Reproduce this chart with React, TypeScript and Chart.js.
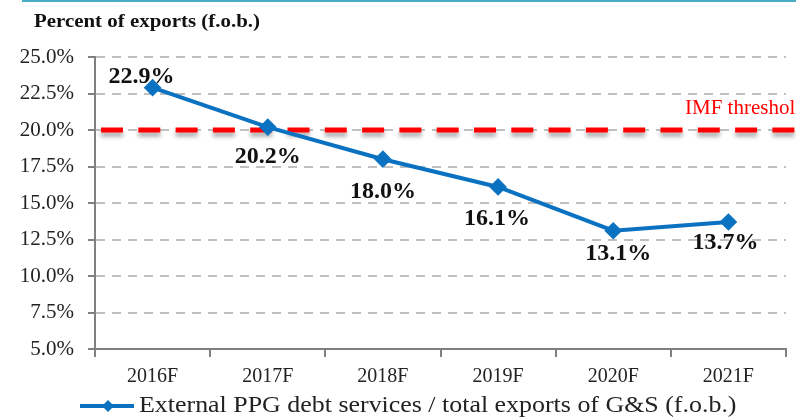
import React, { useEffect, useRef } from "react";
import { Chart, registerables } from "chart.js";

Chart.register(...registerables);

const categories = ["2016F", "2017F", "2018F", "2019F", "2020F", "2021F"];
const debtServiceRatio = [22.9, 20.2, 18.0, 16.1, 13.1, 13.7];
const seriesName = "External PPG debt services / total exports of G&S (f.o.b.)";
const thresholdValue = 20;
const thresholdLabel = "IMF threshold";
const axisTitle = "Percent of exports (f.o.b.)";
const yMin = 5;
const yMax = 25;
const yStep = 2.5;

// label offsets (pixels) relative to each point
const labelOffsets: [number, number][] = [
  [-11, -11],
  [0, 30],
  [0, 33],
  [-1, 32],
  [5, 23],
  [-3, 21],
];

const SERIF = "'Liberation Serif', 'DejaVu Serif', serif";
const BLUE = "#0a72c0";

const decorPlugin = {
  id: "decor",
  beforeDatasetsDraw(chart: any) {
    const { ctx, chartArea, scales } = chart;
    const y = scales.y.getPixelForValue(thresholdValue);
    ctx.save();
    ctx.strokeStyle = "#ff0000";
    ctx.lineWidth = 5;
    ctx.setLineDash([22, 15.3]);
    ctx.shadowColor = "rgba(0,0,0,0.35)";
    ctx.shadowBlur = 4;
    ctx.shadowOffsetY = 4;
    ctx.beginPath();
    ctx.moveTo(chartArea.left + 6, y);
    ctx.lineTo(chart.width, y);
    ctx.stroke();
    ctx.restore();

    ctx.save();
    ctx.fillStyle = "#ff0000";
    ctx.font = `21px ${SERIF}`;
    ctx.textAlign = "left";
    ctx.textBaseline = "alphabetic";
    ctx.fillText(thresholdLabel, 685, 114);
    ctx.restore();
  },
  afterDatasetsDraw(chart: any) {
    const { ctx } = chart;
    const meta = chart.getDatasetMeta(0);
    ctx.save();
    ctx.fillStyle = "#111";
    ctx.font = `bold 24px ${SERIF}`;
    ctx.textAlign = "center";
    ctx.textBaseline = "middle";
    meta.data.forEach((pt: any, i: number) => {
      const [dx, dy] = labelOffsets[i];
      ctx.fillText(debtServiceRatio[i].toFixed(1) + "%", pt.x + dx, pt.y + dy);
    });
    ctx.restore();
  },
  afterDraw(chart: any) {
    const { ctx } = chart;
    ctx.save();
    // top accent line
    ctx.strokeStyle = "#4bacc6";
    ctx.lineWidth = 2;
    ctx.beginPath();
    ctx.moveTo(22, 1);
    ctx.lineTo(chart.width, 1);
    ctx.stroke();
    // title
    ctx.fillStyle = "#111";
    ctx.font = `bold 19px ${SERIF}`;
    ctx.textAlign = "left";
    ctx.textBaseline = "alphabetic";
    ctx.save();
    ctx.translate(34, 27);
    ctx.scale(1.1, 1);
    ctx.fillText(axisTitle, 0, 0);
    ctx.restore();
    // legend
    const ly = 406;
    ctx.strokeStyle = BLUE;
    ctx.lineWidth = 4;
    ctx.beginPath();
    ctx.moveTo(80, ly);
    ctx.lineTo(134, ly);
    ctx.stroke();
    ctx.fillStyle = BLUE;
    ctx.beginPath();
    ctx.moveTo(108, ly - 6);
    ctx.lineTo(114, ly);
    ctx.lineTo(108, ly + 6);
    ctx.lineTo(102, ly);
    ctx.closePath();
    ctx.fill();
    ctx.fillStyle = "#222";
    ctx.font = `24px ${SERIF}`;
    ctx.textBaseline = "middle";
    ctx.save();
    ctx.translate(139, ly);
    ctx.scale(1.08, 1);
    ctx.fillText(seriesName, 0, 0);
    ctx.restore();
    ctx.restore();
  },
};

export default function App() {
  const ref = useRef<HTMLCanvasElement>(null);
  useEffect(() => {
    document.body.style.margin = "0";
    const chart = new Chart(ref.current!, {
      type: "line",
      data: {
        labels: categories,
        datasets: [
          {
            label: seriesName,
            data: debtServiceRatio,
            borderColor: BLUE,
            backgroundColor: BLUE,
            borderWidth: 4,
            pointStyle: "rectRot",
            pointRadius: 6,
            pointBackgroundColor: BLUE,
            pointBorderColor: BLUE,
            tension: 0,
          },
        ],
      },
      plugins: [decorPlugin],
      options: {
        animation: false,
        responsive: false,
        maintainAspectRatio: false,
        layout: { padding: { top: 57, right: 2, left: 0, bottom: 30 } },
        plugins: { legend: { display: false }, tooltip: { enabled: false } },
        scales: {
          x: {
            offset: true,
            grid: {
              offset: true,
              drawOnChartArea: false,
              drawTicks: true,
              tickLength: 8,
              color: "#808080",
              lineWidth: 2,
            },
            border: { display: true, color: "#808080", width: 2 },
            ticks: {
              color: "#222",
              font: { family: SERIF, size: 20 },
              padding: 8,
              maxRotation: 0,
            },
            afterFit: (s: any) => {
              s.height = 41;
            },
          },
          y: {
            min: yMin,
            max: yMax,
            grid: {
              color: "#c0c0c0",
              lineWidth: 2,
              tickColor: "#808080",
              tickLength: 7,
              tickWidth: 2,
            },
            border: { display: true, color: "#808080", width: 2, dash: [9, 7] },
            ticks: {
              stepSize: yStep,
              color: "#222",
              font: { family: SERIF, size: 21 },
              padding: 14,
              callback: (v: any) => Number(v).toFixed(1) + "%",
            },
            afterFit: (s: any) => {
              s.width = 95;
            },
          },
        },
      },
    });
    return () => chart.destroy();
  }, []);
  return (
    <div style={{ position: "absolute", left: 0, top: 0, width: 796, height: 420 }}>
      <canvas ref={ref} width={796} height={420} style={{ width: 796, height: 420 }} />
    </div>
  );
}
